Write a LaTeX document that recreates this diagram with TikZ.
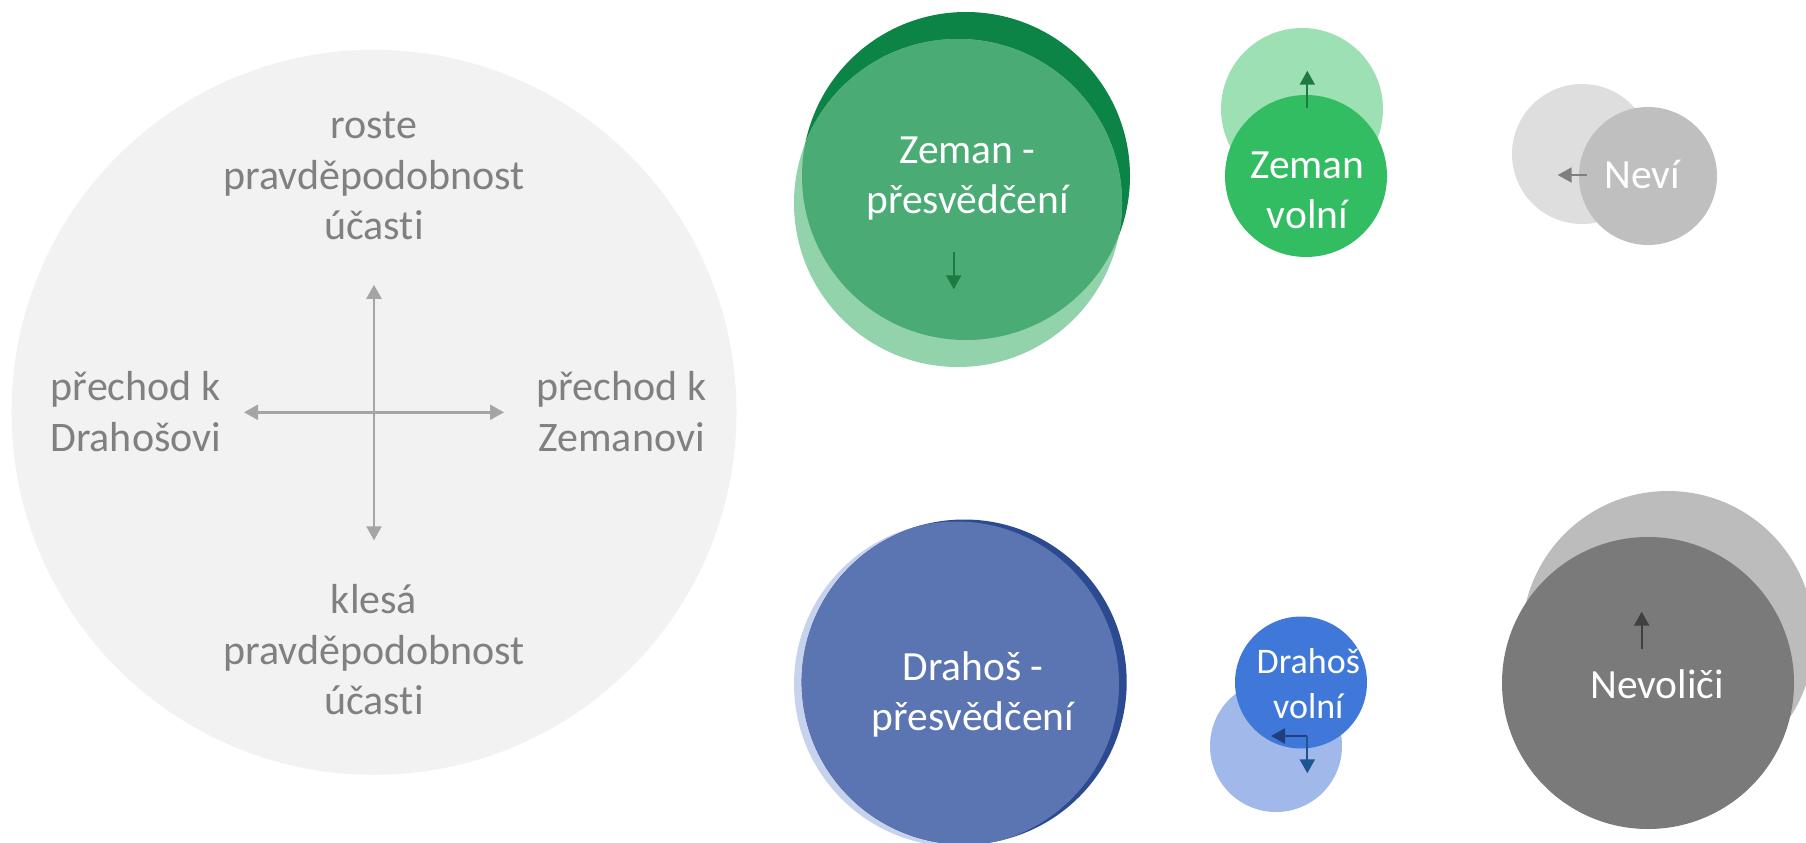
\documentclass[tikz,border=0pt]{standalone}
\usepackage{fontspec}
\setmainfont{Carlito}[Ligatures=NoCommon]
\usetikzlibrary{arrows.meta}
\definecolor{bigbg}{HTML}{F2F2F2}
\definecolor{qtext}{HTML}{808080}
\definecolor{qarrow}{HTML}{A5A5A5}
\definecolor{zdark}{HTML}{0B8445}
\definecolor{zlight}{HTML}{93D3AB}
\definecolor{zmid}{HTML}{4AAB74}
\definecolor{zarrow}{HTML}{1E7A3E}
\definecolor{zvlight}{HTML}{9CE0B3}
\definecolor{zvfront}{HTML}{33BD62}
\definecolor{nlight}{HTML}{DEDEDE}
\definecolor{nfront}{HTML}{BFBFBF}
\definecolor{narrow}{HTML}{7F7F7F}
\definecolor{dlight}{HTML}{C7D2EC}
\definecolor{ddark}{HTML}{2C4A8F}
\definecolor{dmid}{HTML}{5B74B2}
\definecolor{dvlight}{HTML}{A0B9EA}
\definecolor{dvfront}{HTML}{3F78D8}
\definecolor{dvarrowa}{HTML}{1F3F7F}
\definecolor{dvarrowb}{HTML}{1C5592}
\definecolor{nvlight}{HTML}{BCBCBC}
\definecolor{nvfront}{HTML}{7A7A7A}
\definecolor{nvarrow}{HTML}{404040}
\tikzset{
  circ/.style={circle, inner sep=0pt, outer sep=0pt, draw=none},
  lbl/.style={text=white, align=center, inner sep=0pt, anchor=base,
    font=\fontsize{20.75bp}{25bp}\selectfont},
  slbl/.style={text=white, align=center, inner sep=0pt, anchor=base,
    font=\fontsize{18bp}{22.5bp}\selectfont},
  qlbl/.style={text=qtext, align=center, inner sep=0pt, anchor=base,
    font=\fontsize{21bp}{25.2bp}\selectfont},
  qarr/.style={qarrow, line width=1.2bp,
    {Triangle[length=7bp,width=7.5bp]}-{Triangle[length=7bp,width=7.5bp]}},
  arr/.style={line width=1bp, -{Triangle[length=7bp,width=7.5bp]}},
}
\begin{document}
\begin{tikzpicture}[x=0.5bp,y=-0.5bp]
\useasboundingbox (0,0) rectangle (1806,843);
\clip (0,0) rectangle (1806,843);

% big legend circle
\node[circ, fill=bigbg, minimum size=362.5bp] (big) at (374,412.3) {};
\coordinate (hl) at (244,412.3);
\coordinate (hr) at (504,412.3);
\coordinate (vt) at (374,284.8);
\coordinate (vb) at (374,540.3);
\draw[qarr] (hl) -- (hr);
\draw[qarr] (vt) -- (vb);
% anchor=base is the baseline of the last line
\node[qlbl] (qtop) at (374,239.7) {roste\\pravděpodobnost\\účasti};
\node[qlbl] (qbot) at (374,714.5) {klesá\\pravděpodobnost\\účasti};
\node[qlbl] (qleft) at (135.7,451) {přechod k\\Drahošovi};
\node[qlbl] (qright) at (621.5,451) {přechod k\\Zemanovi};

% Zeman - presvedceni
\node[circ, fill=zdark, minimum size=164bp] (zd) at (966,176) {};
\node[circ, fill=zlight, minimum size=164bp] (zl) at (958,203) {};
\begin{scope}
  \clip (zd.center) circle[radius=82bp];
  \fill[zmid] (zl.center) circle[radius=82bp];
\end{scope}
\node[lbl] (zt) at (967.5,213.3) {Zeman -\\přesvědčení};
\coordinate (za1) at (953.7,251.7);
\coordinate (za2) at (953.7,289.3);
\draw[arr, zarrow] (za1) -- (za2);

% Zeman volni
\node[circ, fill=zvlight, minimum size=81bp] (zvl) at (1302,109) {};
\node[circ, fill=zvfront, minimum size=81bp] (zvf) at (1306,176) {};
\node[lbl] (zvt) at (1307.5,228) {Zeman\\volní};
\coordinate (zva1) at (1307.3,108);
\coordinate (zva2) at (1307.3,70.7);
\draw[arr, zarrow] (zva1) -- (zva2);

% Nevi
\node[circ, fill=nlight, minimum size=70bp] (nl) at (1582,154) {};
\node[circ, fill=nfront, minimum size=69bp] (nf) at (1648,176) {};
\node[lbl] (nt) at (1642,188.3) {Neví};
\coordinate (na1) at (1586.7,175);
\coordinate (na2) at (1557.7,175);
\draw[arr, narrow] (na1) -- (na2);

% Drahos - presvedceni
\node[circ, fill=dlight, minimum size=162.5bp] (dl) at (956.5,684) {};
\node[circ, fill=ddark, minimum size=162.5bp] (dd) at (964.2,682) {};
\begin{scope}
  \clip (dl.center) circle[radius=81.25bp];
  \fill[dmid] (dd.center) circle[radius=81.25bp];
\end{scope}
\node[lbl] (dt) at (973,730) {Drahoš -\\přesvědčení};

% Drahos volni
\node[circ, fill=dvlight, minimum size=66bp] (dvl) at (1276,746) {};
\node[circ, fill=dvfront, minimum size=66bp] (dvf) at (1301,682.5) {};
\node[slbl] (dvt) at (1308.3,718.3) {Drahoš\\volní};
\coordinate (dvc) at (1307.3,736);
\coordinate (dvw) at (1271,736);
\coordinate (dvs) at (1307.3,773.3);
\draw[arr, dvarrowa] (dvc) -- (dvw);
\draw[arr, dvarrowb] (dvc) -- (dvs);

% Nevolici
\node[circ, fill=nvlight, minimum size=146bp] (nvl) at (1668,637) {};
\node[circ, fill=nvfront, minimum size=146bp] (nvf) at (1648,683) {};
\node[lbl] (nvt) at (1657,698) {Nevoliči};
\coordinate (nva1) at (1641.7,649.3);
\coordinate (nva2) at (1641.7,611.7);
\draw[arr, nvarrow] (nva1) -- (nva2);
\end{tikzpicture}
\end{document}
